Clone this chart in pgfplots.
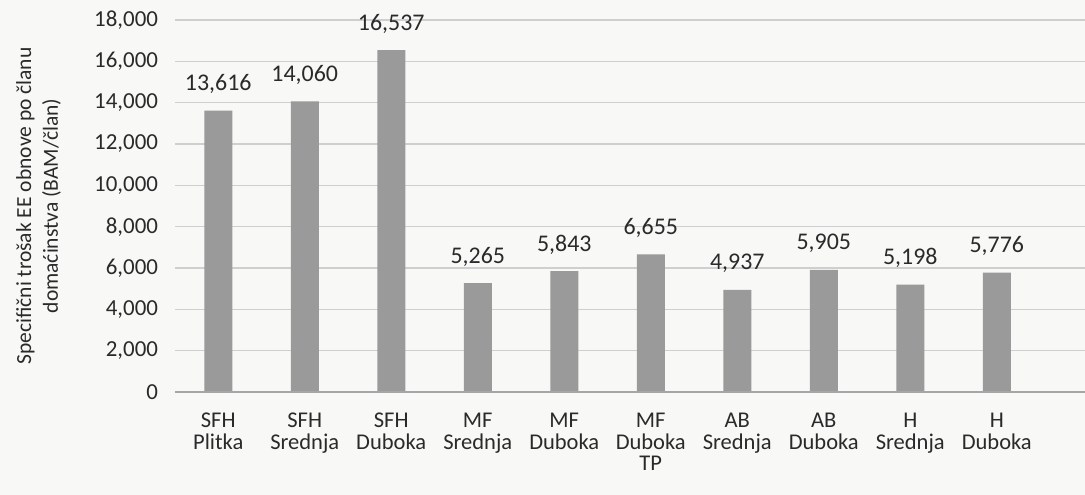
\documentclass[border=0pt]{standalone}
\usepackage{pgfplots}
\pgfplotsset{compat=1.18}
\usepackage{fontspec}
\setmainfont{Carlito}
\definecolor{txt}{HTML}{2A2A2A}
\definecolor{barc}{HTML}{9A9A9A}
\definecolor{gridc}{HTML}{CFCFCF}
\definecolor{bg}{HTML}{F8F8F6}
\begin{document}
\begin{tikzpicture}
\useasboundingbox (0,0) rectangle (542.5bp,247.5bp);
\fill[bg] (0,0) rectangle (542.5bp,247.5bp);
\begin{axis}[
  at={(87.5bp,51.5bp)}, anchor=south west,
  scale only axis,
  width=455bp, height=186bp,
  xmin=-0.5, xmax=10.02,
  ymin=0, ymax=18000,
  ytick={0,2000,...,18000},
  xtick={0,...,9},
  xticklabels={{SFH\\Plitka},{SFH\\Srednja},{SFH\\Duboka},{MF\\Srednja},{MF\\Duboka},{MF\\Duboka\\TP},{AB\\Srednja},{AB\\Duboka},{H\\Srednja},{H\\Duboka}},
  xticklabel style={align=center, font=\fontsize{11.3}{10.8}\selectfont, text=txt, yshift=-7bp},
  yticklabel style={font=\fontsize{11.5}{12}\selectfont, text=txt, xshift=-5bp},
  /pgf/number format/assume math mode=true,
  /pgf/number format/1000 sep={,},
  scaled y ticks=false,
  axis line style={draw=none},
  major tick length=0pt,
  ymajorgrids, grid style={gridc, line width=0.6pt},
  ylabel={Specifični trošak EE obnove po članu\\domaćinstva (BAM/član)},
  ylabel style={at={(axis description cs:-0.15,0.5)}, anchor=center, align=center, font=\fontsize{10.8}{13.5}\selectfont, text=txt},
  nodes near coords,
  nodes near coords style={font=\fontsize{12}{14}\selectfont, text=txt, yshift=5bp,
    /pgf/number format/assume math mode=true, /pgf/number format/1000 sep={,}, /pgf/number format/fixed},
  clip=false,
]
\addplot[ybar, bar width=14bp, fill=barc, draw=none] coordinates {
 (0,13616) (1,14060) (2,16537) (3,5265) (4,5843) (5,6655) (6,4937) (7,5905) (8,5198) (9,5776)
};
\draw[gray!70, line width=0.8pt] (axis cs:-0.5,0) -- (axis cs:10.02,0);
\end{axis}
\end{tikzpicture}
\end{document}
